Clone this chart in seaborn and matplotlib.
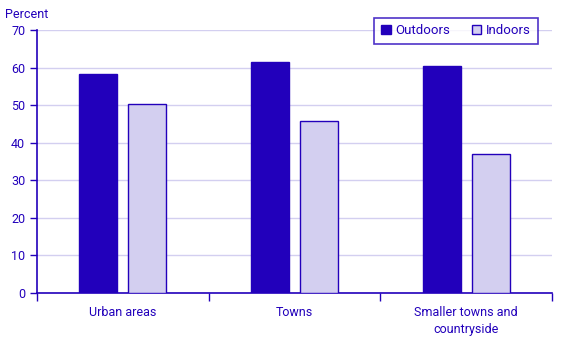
import matplotlib
matplotlib.use("Agg")
import matplotlib.pyplot as plt
import seaborn as sns
import pandas as pd

categories = ["Urban areas", "Towns", "Smaller towns and\ncountryside"]
outdoors = [58.3, 61.5, 60.4]
indoors = [50.3, 45.8, 37.0]
series_names = ["Outdoors", "Indoors"]
y_ticks = [0, 10, 20, 30, 40, 50, 60, 70]

dark = "#2200BB"
light = "#D3CFF0"
text_c = "#2200BB"

sns.set_style("white")
plt.rcParams["font.family"] = ["Roboto", "DejaVu Sans"]

df = pd.DataFrame({
    "cat": categories * 2,
    "val": outdoors + indoors,
    "series": [series_names[0]] * 3 + [series_names[1]] * 3,
})

fig = plt.figure(figsize=(5.67, 3.4), dpi=100)
ax = fig.add_axes([37 / 567, 1 - 293 / 340, (552 - 37) / 567, (293 - 30) / 340])

sns.barplot(data=df, x="cat", y="val", hue="series", order=categories,
            hue_order=series_names, palette=[dark, light], saturation=1,
            width=0.57, gap=0.225,
            edgecolor=dark, linewidth=1, errorbar=None, ax=ax, legend=True, zorder=3)

ax.set_ylim(0, 70)
ax.set_xlim(-0.5, 2.5)
ax.set_yticks(y_ticks)
ax.grid(axis="y", color=light, linewidth=1, zorder=0)
ax.set_axisbelow(True)
for s in ["top", "right"]:
    ax.spines[s].set_visible(False)
for s in ["left", "bottom"]:
    ax.spines[s].set_color(dark)
    ax.spines[s].set_linewidth(1.2)
ax.set_xlabel("")
ax.set_ylabel("")
ax.tick_params(axis="y", colors=text_c, labelsize=9, length=5, width=1, direction="out", left=True)
ax.tick_params(axis="x", which="major", length=0, labelsize=9, labelcolor=text_c, pad=9)
ax.set_xticks([-0.5, 0.5, 1.5, 2.5], minor=True)
ax.tick_params(axis="x", which="minor", length=6, width=1, color=dark, bottom=True)
for lab in ax.get_xticklabels():
    lab.set_linespacing(1.45)

fig.text(5 / 567, 1 - 14 / 340, "Percent", color=text_c, fontsize=9, va="center", ha="left")

leg = ax.legend(loc="upper right", bbox_to_anchor=(537.5 / 567, 1 - 17.5 / 340),
                bbox_transform=fig.transFigure, ncol=2, fontsize=9.5, frameon=True,
                fancybox=False, handlelength=0.75, handleheight=0.75, handletextpad=0.35,
                columnspacing=1.6, borderpad=0.5, borderaxespad=0)
leg.get_frame().set_edgecolor(dark)
leg.get_frame().set_linewidth(1.2)
for t in leg.get_texts():
    t.set_color(text_c)

fig.savefig("out.png", dpi=100)
